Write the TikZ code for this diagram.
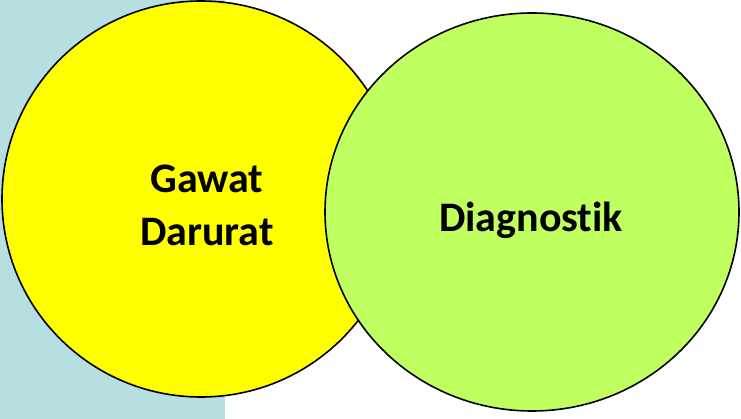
\documentclass[tikz,border=0pt]{standalone}
\usepackage{fontspec}
\setmainfont{Carlito}[Ligatures={NoCommon}]
\usetikzlibrary{shapes.geometric}
\definecolor{bgblue}{RGB}{183,222,225}
\definecolor{yel}{RGB}{255,255,0}
\definecolor{grn}{RGB}{191,255,96}
\tikzset{
  blob/.style={ellipse, draw=black, line width=1.6pt, inner sep=0pt},
  lbl/.style={font=\fontsize{42}{53}\selectfont\bfseries, align=center, inner sep=0pt, text=black}
}
\begin{document}
\begin{tikzpicture}[x=1pt,y=-1pt]
\useasboundingbox (0,0) rectangle (741,419);
\fill[white] (0,0) rectangle (741,419);
\fill[bgblue] (0,0) rectangle (225,419);
\node[blob, fill=yel, minimum width=398pt, minimum height=396pt] (gd) at (201,199) {};
\node[lbl] (gdt) at (207,205) {Gawat\\Darurat};
\node[blob, fill=grn, minimum width=414pt, minimum height=398pt] (dg) at (532,212) {};
\node[lbl] (dgt) at (531,220) {Diagnostik};
\end{tikzpicture}
\end{document}
